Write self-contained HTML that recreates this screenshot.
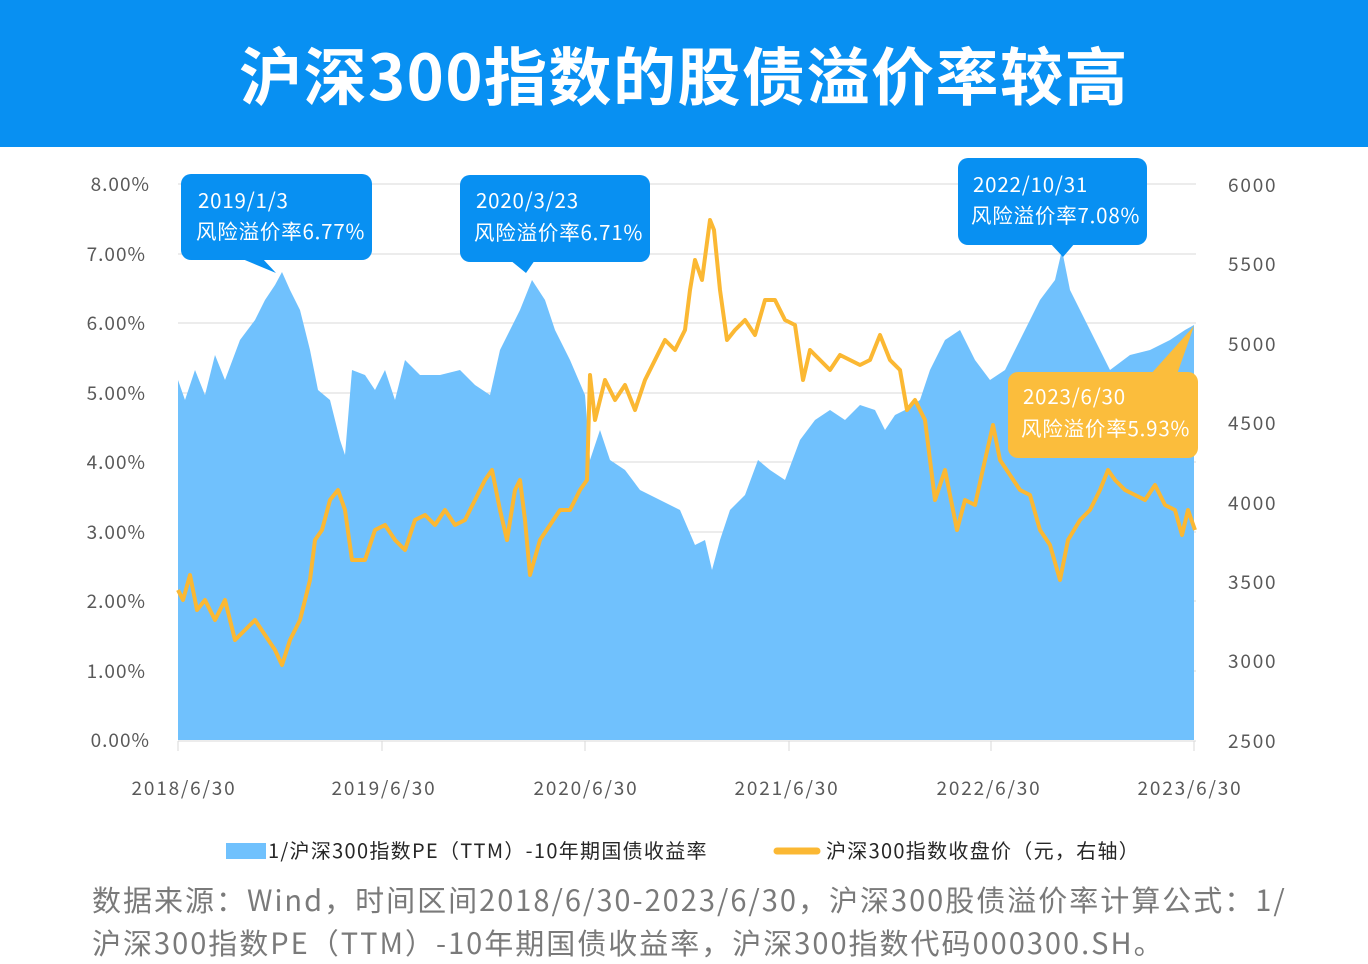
<!DOCTYPE html>
<html><head><meta charset="utf-8"><style>
html,body{margin:0;padding:0;background:#fff;}
body{width:1368px;height:961px;overflow:hidden;position:relative;font-family:"Noto Sans CJK SC",sans-serif;}
.hdr{position:absolute;left:0;top:0;width:1368px;height:147px;background:#0890f2;color:#fff;font-size:63px;font-weight:bold;text-align:center;line-height:148px;letter-spacing:1.5px;}
.foot{position:absolute;left:92px;top:878px;width:1250px;font-size:29px;color:#7a7a7a;line-height:43px;letter-spacing:2px;white-space:nowrap;}
</style></head><body>
<div class="hdr">沪深300指数的股债溢价率较高</div>
<svg width="1368" height="961" style="position:absolute;left:0;top:0" font-family="Noto Sans CJK SC, sans-serif">
<g stroke="#d9d9d9" stroke-width="1">
<line x1="178" x2="1196" y1="184" y2="184"/><line x1="178" x2="1196" y1="254" y2="254"/>
<line x1="178" x2="1196" y1="323" y2="323"/><line x1="178" x2="1196" y1="393" y2="393"/>
<line x1="178" x2="1196" y1="462" y2="462"/><line x1="178" x2="1196" y1="532" y2="532"/>
<line x1="178" x2="1196" y1="601" y2="601"/><line x1="178" x2="1196" y1="671" y2="671"/>
</g>
<polygon fill="#70c1fd" points="178,740 178,380 185,400 195,370 205,395 215,355 225,380 240,340 255,320 265,300 275,285 282,272 290,290 300,310 310,350 318,390 330,400 340,440 345,455 352,370 365,375 375,390 385,370 395,400 405,360 420,375 440,375 460,370 475,385 490,395 500,350 510,330 520,310 532,280 545,300 555,330 570,360 585,395 590,460 600,430 610,460 625,470 640,490 660,500 680,510 695,545 705,540 712,570 720,540 730,510 745,495 758,460 770,470 785,480 800,440 815,420 830,410 845,420 860,405 875,410 885,430 895,415 905,410 920,400 930,370 945,340 960,330 975,360 990,380 1005,370 1020,340 1040,300 1055,280 1062,250 1070,290 1080,310 1095,340 1110,370 1130,355 1150,350 1170,340 1185,330 1194,325 1194,740"/>
<line x1="178" x2="1196" y1="741" y2="741" stroke="#d9d9d9"/>
<g stroke="#d9d9d9"><line x1="178" x2="178" y1="741" y2="751"/><line x1="382" x2="382" y1="741" y2="751"/><line x1="585" x2="585" y1="741" y2="751"/><line x1="789" x2="789" y1="741" y2="751"/><line x1="991" x2="991" y1="741" y2="751"/><line x1="1194" x2="1194" y1="741" y2="751"/></g>
<polyline fill="none" stroke="#fbb833" stroke-width="4" stroke-linejoin="round" points="178,590 183,600 190,575 197,610 205,600 215,620 225,600 235,640 245,630 255,620 265,635 275,650 282,665 290,640 300,620 310,580 315,540 322,530 330,500 338,490 345,510 352,560 365,560 375,530 385,525 395,540 405,550 415,520 425,515 435,525 445,510 455,525 465,520 475,500 485,480 492,470 500,510 507,540 515,490 520,480 525,520 530,575 540,540 550,525 560,510 570,510 580,490 587,480 590,375 595,420 605,380 615,400 625,385 635,410 645,380 655,360 665,340 675,350 685,330 690,290 695,260 702,280 710,220 714,230 720,290 727,340 735,330 745,320 755,335 765,300 775,300 785,320 795,325 803,380 810,350 820,360 830,370 840,355 850,360 860,365 870,360 880,335 890,360 900,370 907,410 915,400 925,420 930,460 935,500 945,470 957,530 965,500 975,505 985,460 993,425 1000,460 1010,475 1020,490 1030,495 1040,530 1050,545 1060,580 1068,540 1080,520 1090,510 1100,490 1108,470 1115,480 1125,490 1135,495 1145,500 1155,485 1165,505 1175,510 1182,535 1188,510 1195,530"/>
<g font-size="19" fill="#595959" text-anchor="end" letter-spacing="1">
<text x="150" y="191">8.00%</text><text x="146" y="261">7.00%</text><text x="146" y="330">6.00%</text><text x="146" y="400">5.00%</text><text x="146" y="469">4.00%</text><text x="146" y="539">3.00%</text><text x="146" y="608">2.00%</text><text x="146" y="678">1.00%</text><text x="150" y="747">0.00%</text>
</g>
<g font-size="19" fill="#595959" letter-spacing="1.8">
<text x="1228" y="192">6000</text><text x="1228" y="271">5500</text><text x="1228" y="351">5000</text><text x="1228" y="430">4500</text><text x="1228" y="510">4000</text><text x="1228" y="589">3500</text><text x="1228" y="668">3000</text><text x="1228" y="748">2500</text>
</g>
<g font-size="19" fill="#595959" text-anchor="middle" letter-spacing="1.8">
<text x="184" y="795">2018/6/30</text><text x="384" y="795">2019/6/30</text><text x="586" y="795">2020/6/30</text><text x="787" y="795">2021/6/30</text><text x="989" y="795">2022/6/30</text><text x="1190" y="795">2023/6/30</text>
</g>
<g fill="#0890f2">
<rect x="181" y="174" width="191" height="86" rx="10"/><polygon points="240,258 262,258 276,273"/>
<rect x="460" y="175" width="190" height="87" rx="10"/><polygon points="510,260 535,260 526,273"/>
<rect x="958" y="158" width="189" height="87" rx="10"/><polygon points="1050,243 1075,243 1063,257"/>
</g>
<g fill="#fbbd3c"><rect x="1008" y="372" width="190" height="86" rx="10"/><polygon points="1150,375 1175,380 1194,326"/></g>
<g font-size="20.5" fill="#fff" letter-spacing="0.8">
<text x="198" y="208">2019/1/3</text><text x="196" y="239">风险溢价率6.77%</text>
<text x="476" y="208">2020/3/23</text><text x="474" y="240">风险溢价率6.71%</text>
<text x="973" y="192">2022/10/31</text><text x="971" y="223">风险溢价率7.08%</text>
<text x="1023" y="404">2023/6/30</text><text x="1021" y="436">风险溢价率5.93%</text>
</g>
<rect x="226" y="843" width="40" height="16" fill="#70c1fd"/>
<line x1="777" x2="817" y1="851" y2="851" stroke="#fbb833" stroke-width="7" stroke-linecap="round"/>
<g font-size="20" fill="#262626" letter-spacing="1.3"><text x="268" y="858">1/沪深300指数PE（TTM）-10年期国债收益率</text><text x="826" y="858">沪深300指数收盘价（元，右轴）</text></g>
</svg>
<div class="foot">数据来源：Wind，时间区间2018/6/30-2023/6/30，沪深300股债溢价率计算公式：1/<br>沪深300指数PE（TTM）-10年期国债收益率，沪深300指数代码000300.SH。</div>
</body></html>
